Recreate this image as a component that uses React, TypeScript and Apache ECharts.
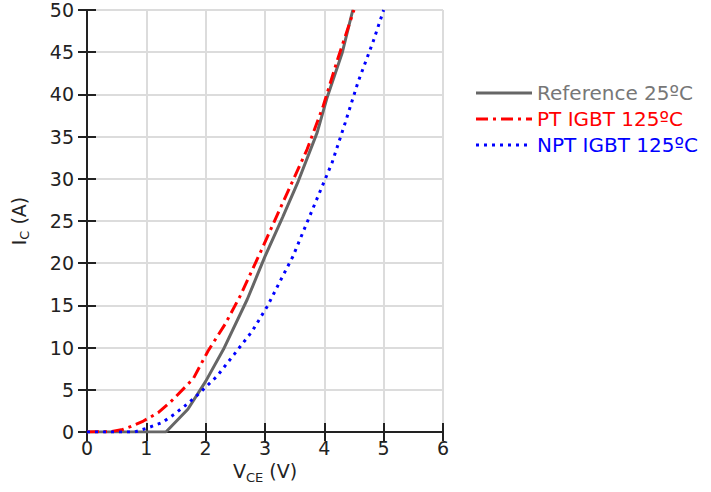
import React, { useEffect, useRef } from "react";
import * as echarts from "echarts";

const refX = [0, 1.33, 1.7, 2.0, 2.3, 2.7, 3.0, 3.3, 3.56, 3.88, 4.05, 4.3, 4.48];
const refY = [0, 0, 2.7, 6.0, 9.8, 15.7, 20.8, 25.5, 29.7, 35.5, 39.7, 44.9, 50];
const ptX = [0, 0.4, 0.6, 0.72, 0.95, 1.2, 1.4, 1.79, 2.04, 2.33, 2.58, 2.93, 3.25, 3.71, 3.98, 4.23, 4.5];
const ptY = [0, 0.05, 0.3, 0.6, 1.3, 2.3, 3.5, 6.3, 9.6, 12.8, 16.1, 21.4, 26.4, 33.5, 38.6, 44.3, 50];
const nptX = [0, 0.8, 1.03, 1.26, 1.47, 1.65, 1.85, 2.19, 2.48, 2.78, 3.04, 3.25, 3.47, 3.85, 4.13, 4.35, 4.57, 4.82, 5.0];
const nptY = [0, 0, 0.5, 1.1, 2.1, 3.1, 4.3, 6.6, 9.2, 11.9, 14.9, 17.8, 20.8, 27.2, 31.9, 36.6, 41.5, 46.2, 50];
const seriesNames = ["Reference 25ºC", "PT IGBT 125ºC", "NPT IGBT 125ºC"];
const lineColors = ["#666666", "#ff0000", "#0000ff"];
const textColors = ["#777777", "#ff0000", "#0000ff"];
const dashTypes: any[] = ["solid", [12, 5, 3, 5], [3, 5]];

const zip = (xs: number[], ys: number[]) => xs.map((x, i) => [x, ys[i]]);

const FONT = "DejaVu Sans";

export default function App() {
  const ref = useRef<HTMLDivElement>(null);
  useEffect(() => {
    if (!ref.current) return;
    const chart = echarts.init(ref.current, undefined, { renderer: "svg" });
    const axisLine = { show: true, lineStyle: { color: "#222", width: 2 } };
    const tick = { show: true, inside: true, length: 9, lineStyle: { color: "#222", width: 2 } };
    const split = { show: true, lineStyle: { color: "#dcdcdc", width: 2 } };
    const legendY = [93, 119, 145];
    const legendGraphics: any[] = [];
    seriesNames.forEach((n, i) => {
      legendGraphics.push({
        type: "line",
        shape: { x1: 476, y1: legendY[i], x2: 532, y2: legendY[i] },
        style: { stroke: lineColors[i], lineWidth: 3, lineDash: dashTypes[i] === "solid" ? null : dashTypes[i] },
      });
      legendGraphics.push({
        type: "text",
        x: 537,
        y: legendY[i],
        style: { text: n, fill: textColors[i], font: `20px '${FONT}'`, verticalAlign: "middle" },
      });
    });
    const rich = {
      a: { fontSize: 19, lineHeight: 22, color: "#222", fontFamily: FONT, verticalAlign: "top" },
      b: { fontSize: 13, lineHeight: 12, color: "#222", fontFamily: FONT, verticalAlign: "bottom" },
    };
    chart.setOption({
      animation: false,
      textStyle: { fontFamily: FONT },
      grid: { left: 87, right: 268, top: 10, bottom: 60, containLabel: false },
      graphic: legendGraphics,
      xAxis: [
        {
          type: "value",
          min: 0,
          max: 6,
          interval: 1,
          axisLine,
          axisTick: tick,
          splitLine: split,
          axisLabel: { color: "#222", fontSize: 19, margin: 6, fontFamily: FONT },
          name: "{a|V}{b|CE}{a| (V)}",
          nameLocation: "middle",
          nameGap: 21,
          nameTextStyle: { rich },
        },
        {
          type: "value",
          position: "top",
          min: 0,
          max: 6,
          interval: 1,
          axisLine,
          axisTick: tick,
          splitLine: { show: false },
          axisLabel: { show: false },
        },
      ],
      yAxis: [
        {
          type: "value",
          min: 0,
          max: 50,
          interval: 5,
          axisLine,
          axisTick: tick,
          splitLine: split,
          axisLabel: { color: "#222", fontSize: 19, margin: 13, fontFamily: FONT },
          name: "{a|I}{b|C}{a| (A)}",
          nameLocation: "middle",
          nameRotate: 90,
          nameGap: 56,
          nameTextStyle: { rich },
        },
        {
          type: "value",
          position: "right",
          min: 0,
          max: 50,
          interval: 5,
          axisLine,
          axisTick: tick,
          splitLine: { show: false },
          axisLabel: { show: false },
        },
      ],
      series: seriesNames.map((n, i) => ({
        name: n,
        type: "line",
        data: [zip(refX, refY), zip(ptX, ptY), zip(nptX, nptY)][i],
        symbol: "none",
        color: lineColors[i],
        lineStyle: { color: lineColors[i], width: 3, type: dashTypes[i] },
        z: 3 + i,
      })),
    });
    return () => chart.dispose();
  }, []);
  return <div ref={ref} style={{ position: "absolute", left: 0, top: 0, width: 711, height: 492 }} />;
}
